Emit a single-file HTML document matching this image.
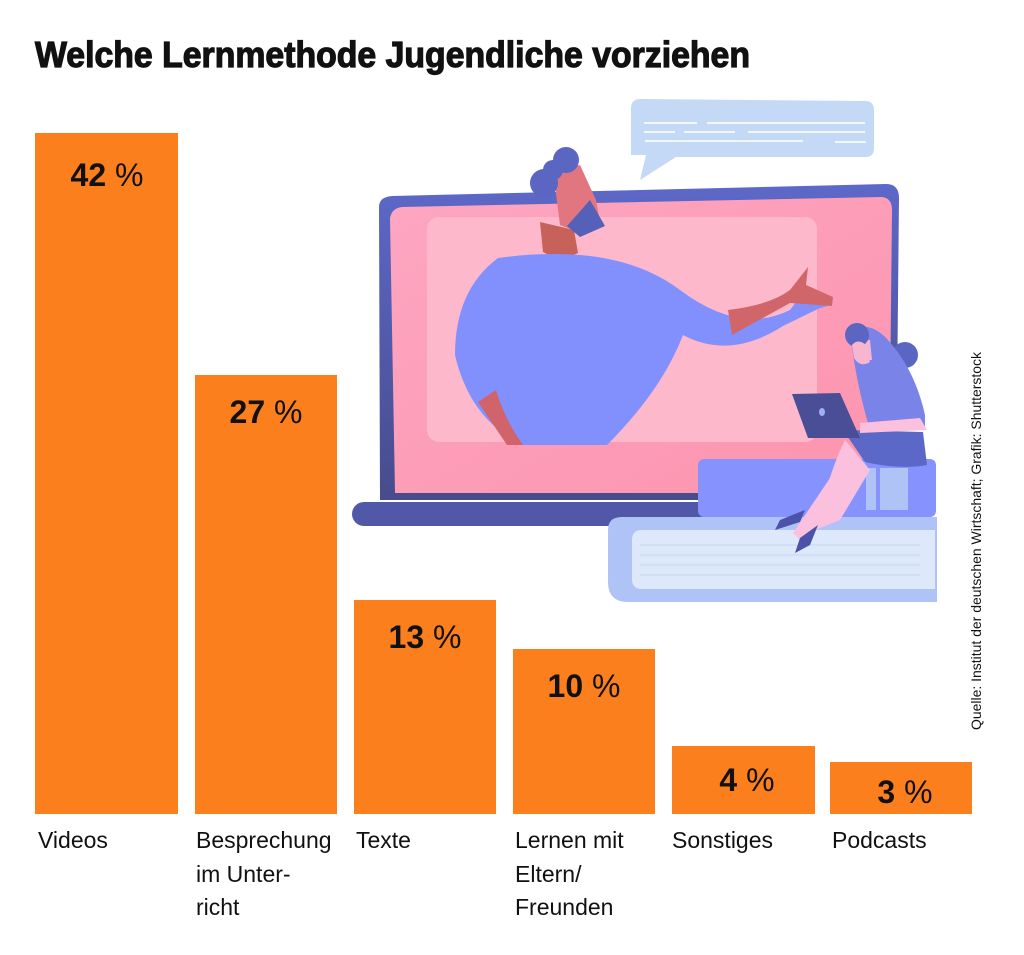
<!DOCTYPE html>
<html><head><meta charset="utf-8"><style>
html,body{margin:0;padding:0;background:#fff;}
svg{display:block}
text{font-family:"Liberation Sans",sans-serif;}
</style></head><body>
<svg width="1024" height="955" viewBox="0 0 1024 955" xmlns="http://www.w3.org/2000/svg">
<defs>
<linearGradient id="scr" x1="0" x2="1" y1="0" y2="1"><stop offset="0" stop-color="#fda6c2"/><stop offset="1" stop-color="#fd94ae"/></linearGradient>
<linearGradient id="frm" x1="0" x2="0" y1="0" y2="1"><stop offset="0" stop-color="#5d68c8"/><stop offset="1" stop-color="#474c8c"/></linearGradient>
</defs>
<text x="35" y="67" font-size="36" font-weight="bold" textLength="715" lengthAdjust="spacingAndGlyphs" fill="#111" stroke="#111" stroke-width="1.2">Welche Lernmethode Jugendliche vorziehen</text>

<!-- illustration -->
<path d="M640,180 L646,155 L631,155 L631,108 Q631,99 641,99 L865,101 Q874,101 874,110 L874,148 Q874,157 865,157 L676,157 Z" fill="#c4d9f5"/>
<g stroke="#fff" stroke-width="2" opacity="0.8">
<line x1="644" y1="123" x2="697" y2="123"/><line x1="707" y1="123" x2="865" y2="123"/>
<line x1="644" y1="132" x2="675" y2="132"/><line x1="684" y1="132" x2="735" y2="132"/><line x1="748" y1="132" x2="865" y2="132"/>
<line x1="645" y1="141" x2="803" y2="141"/><line x1="835" y1="142" x2="866" y2="142"/>
</g>
<path d="M379,207 Q379,197 392,196 L886,184 Q899,184 899,198 L896,500 L380,500 Z" fill="url(#frm)"/>
<rect x="352" y="502" width="410" height="24" rx="12" fill="#5258a8"/>
<path d="M390,218 Q392,208 402,207 L882,197 Q892,198 892,210 L889,493 L395,493 Z" fill="url(#scr)"/>
<rect x="427" y="217" width="390" height="225" rx="12" fill="#fdb8cb"/>
<!-- man -->
<path d="M540,222 L543,252 Q560,262 578,253 L574,230 Z" fill="#c7625b"/>
<path d="M553,170 L580,165 L596,200 L600,222 L573,230 L560,225 Z" fill="#e27680"/>
<path d="M590,200 L605,226 L580,237 L567,226 Z" fill="#5560b8"/>
<circle cx="566" cy="160" r="13" fill="#5a66c2"/><circle cx="544" cy="183" r="14" fill="#5a66c2"/><circle cx="553" cy="170" r="10" fill="#5a66c2"/>
<path d="M498,258 Q540,252 580,255 Q640,260 680,290 Q740,335 790,310 L805,290 L832,305 L820,308 L783,326 Q730,360 683,335 Q662,390 607,445 L523,445 Q470,420 455,355 Q455,290 498,258 Z" fill="#8290fd"/>
<path d="M478,402 L496,390 Q505,420 523,445 L507,445 Z" fill="#d1636a"/>
<path d="M728,310 Q770,305 790,290 L808,267 L806,285 L833,297 L832,306 L790,303 L732,335 Z" fill="#d1666a"/>
<!-- books -->
<path d="M608,530 Q608,517 622,517 L937,517 L937,602 L628,602 Q608,602 608,582 Z" fill="#b0c3f7"/>
<path d="M632,540 Q632,530 642,530 L935,530 L935,589 L642,589 Q632,589 632,579 Z" fill="#dde9fb"/>
<g stroke="#c6d6f2" stroke-width="1"><line x1="640" y1="545" x2="920" y2="545"/><line x1="640" y1="555" x2="920" y2="555"/><line x1="640" y1="565" x2="920" y2="565"/><line x1="640" y1="575" x2="920" y2="575"/></g>
<rect x="698" y="459" width="238" height="58" rx="6" fill="#8692fd"/>
<rect x="866" y="468" width="10" height="42" fill="#b0c3f7"/><rect x="880" y="468" width="28" height="42" fill="#b0c3f7"/>
<!-- girl -->
<circle cx="905" cy="355" r="13" fill="#5a66c2"/>
<path d="M850,330 Q870,320 888,340 Q915,370 925,415 L925,430 L870,430 Q855,380 850,330 Z" fill="#7a84e8"/>
<path d="M858,350 Q860,340 870,340 L872,360 L860,360 Z" fill="#f5b4d0"/>
<circle cx="857" cy="335" r="12" fill="#5a66c2"/>
<path d="M852,345 Q858,338 866,345 L870,362 Q860,368 854,358 Z" fill="#f6b6cf"/>
<path d="M843,430 L923,432 L927,465 Q900,470 865,462 Z" fill="#5c68c8"/>
<path d="M845,440 L870,470 L840,520 L815,530 L820,515 Q830,470 845,440 Z" fill="#fbc0dd"/>
<path d="M865,462 L850,500 L800,540 L793,533 L830,478 Z" fill="#fbc0dd"/>
<path d="M780,520 L805,510 L800,522 L775,530 Z" fill="#4b52a8"/>
<path d="M800,538 L818,525 L810,545 L795,553 Z" fill="#4b52a8"/>
<path d="M792,394 L840,393 L860,438 L808,438 Z" fill="#4a4e96"/>
<ellipse cx="822" cy="412" rx="3" ry="4" fill="#9fb0ee"/>
<path d="M860,423 L920,418 L927,430 L860,433 Z" fill="#fbc0dd"/>

<!-- bars -->
<g fill="#fb7f1c">
<rect x="35" y="133" width="143" height="681"/>
<rect x="195" y="375" width="142" height="439"/>
<rect x="354" y="600" width="142" height="214"/>
<rect x="513" y="649" width="142" height="165"/>
<rect x="672" y="746" width="143" height="68"/>
<rect x="830" y="762" width="142" height="52"/>
</g>
<g font-size="32" fill="#111" text-anchor="middle">
<text x="107" y="186"><tspan font-weight="bold">42</tspan> %</text>
<text x="266" y="423"><tspan font-weight="bold">27</tspan> %</text>
<text x="425" y="648"><tspan font-weight="bold">13</tspan> %</text>
<text x="584" y="697"><tspan font-weight="bold">10</tspan> %</text>
<text x="747" y="791"><tspan font-weight="bold">4</tspan> %</text>
<text x="905" y="803"><tspan font-weight="bold">3</tspan> %</text>
</g>
<g font-size="23" fill="#111">
<text x="38" y="848">Videos</text>
<text x="196" y="848">Besprechung</text><text x="196" y="882">im Unter-</text><text x="196" y="915">richt</text>
<text x="356" y="848">Texte</text>
<text x="515" y="848">Lernen mit</text><text x="515" y="882">Eltern/</text><text x="515" y="915">Freunden</text>
<text x="672" y="848">Sonstiges</text>
<text x="832" y="848">Podcasts</text>
</g>
<text transform="translate(981,730) rotate(-90)" font-size="14" fill="#111" textLength="378" lengthAdjust="spacingAndGlyphs">Quelle: Institut der deutschen Wirtschaft; Grafik: Shutterstock</text>
</svg>
</body></html>
